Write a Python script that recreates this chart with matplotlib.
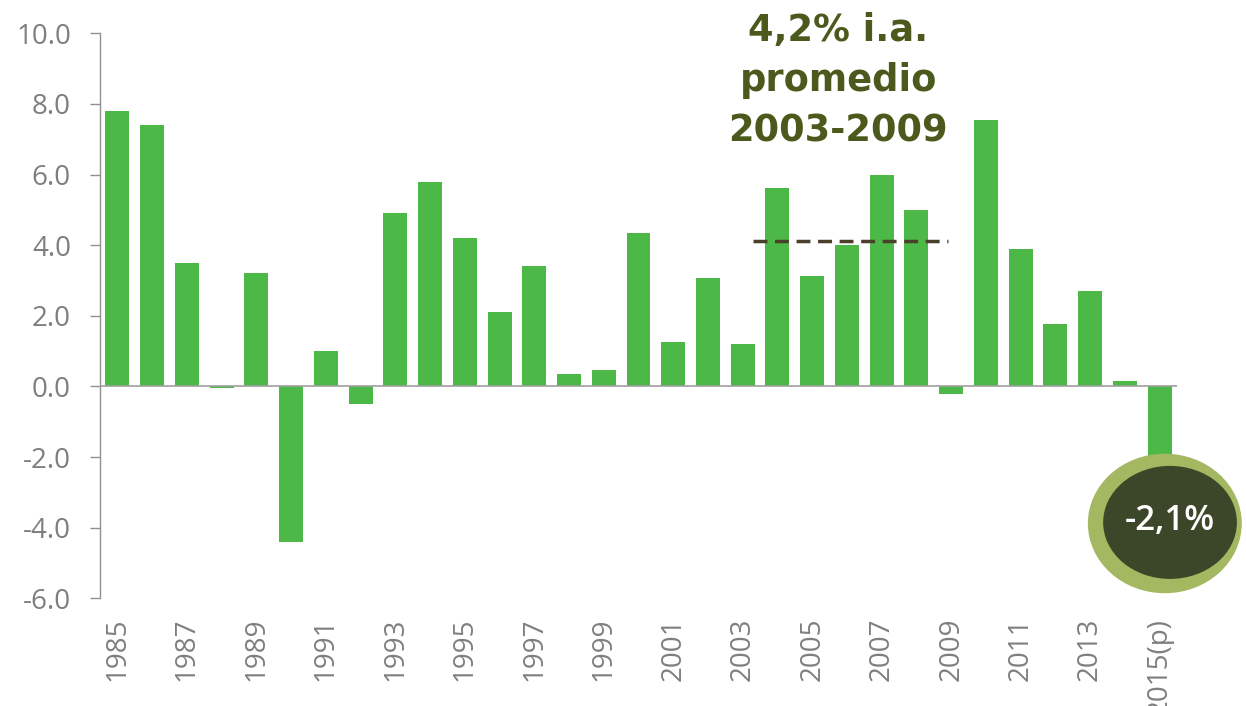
import matplotlib
matplotlib.use("Agg")
import matplotlib.pyplot as plt
from matplotlib.patches import Ellipse
import numpy as np

years = list(range(1985, 2016))
growth = [7.8, 7.4, 3.5, -0.05, 3.2, -4.4, 1.0, -0.5, 4.9, 5.8,
          4.2, 2.1, 3.4, 0.35, 0.47, 4.35, 1.27, 3.08, 1.2, 5.62,
          3.12, 4.0, 6.0, 5.0, -0.2, 7.55, 3.9, 1.76, 2.7, 0.15, -2.1]
tick_labels = [str(y) if (y - 1985) % 2 == 0 else "" for y in years]
tick_labels[-1] = "2015(p)"
avg_value = 4.2
avg_start, avg_end = 2003, 2009
avg_text = "4,2% i.a.\npromedio\n2003-2009"
last_text = "-2,1%"

bar_color = "#4cb848"
gray = "#7f7f7f"

fig = plt.figure(figsize=(12.46, 7.06), dpi=100)
ax = fig.add_axes([0.0803, 0.1525, 0.8643, 0.8003])

x = np.arange(len(years))
ax.bar(x, growth, width=0.69, color=bar_color, zorder=2)

ax.set_xlim(-0.5, len(years) - 0.5)
ax.set_ylim(-6, 10)
ax.set_yticks(np.arange(-6, 10.1, 2))
ax.set_yticklabels([f"{v:.1f}" for v in np.arange(-6, 10.1, 2)])
ax.set_xticks(x)
ax.set_xticklabels(tick_labels, rotation=90, va="top", ha="center")

for s in ["top", "right", "bottom"]:
    ax.spines[s].set_visible(False)
ax.spines["left"].set_color("#909090")
ax.spines["left"].set_linewidth(1.0)
ax.axhline(0, color="#a0a0a0", linewidth=1.2, zorder=3)

ax.tick_params(axis="y", length=7, width=1, color="#909090", pad=14,
               labelsize=20, labelcolor=gray)
ax.tick_params(axis="x", length=0, pad=14, labelsize=20, labelcolor=gray)
for lab in ax.get_xticklabels() + ax.get_yticklabels():
    lab.set_fontfamily("Open Sans")

# average dashed line
i0 = years.index(avg_start) + 0.3
i1 = years.index(avg_end) - 0.1
ax.plot([i0, i1], [avg_value - 0.07, avg_value - 0.07], linestyle=(0, (4, 2.2)),
        color="#4a3f2a", linewidth=2.5, zorder=4)

ax.text((i0 + i1) / 2 - 0.35, 10.6, avg_text, ha="center", va="top",
        fontsize=26.5, fontweight="heavy", color="#4b5a1c",
        family="DejaVu Sans", linespacing=1.45, zorder=5, clip_on=False)

# highlighted last value
ilast = len(years) - 1
outer = Ellipse((ilast + 0.15, -3.88), 4.43, 3.95, facecolor="#a3b860",
                edgecolor="none", clip_on=False, zorder=6)
inner = Ellipse((ilast + 0.3, -3.85), 3.85, 3.2, facecolor="#3b4728",
                edgecolor="none", clip_on=False, zorder=7)
ax.add_patch(outer)
ax.add_patch(inner)
ax.text(ilast + 0.3, -3.8, last_text, ha="center", va="center",
        fontsize=25, fontweight="semibold", color="white",
        family="Open Sans", zorder=8, clip_on=False)

fig.savefig("out.png", dpi=100)
